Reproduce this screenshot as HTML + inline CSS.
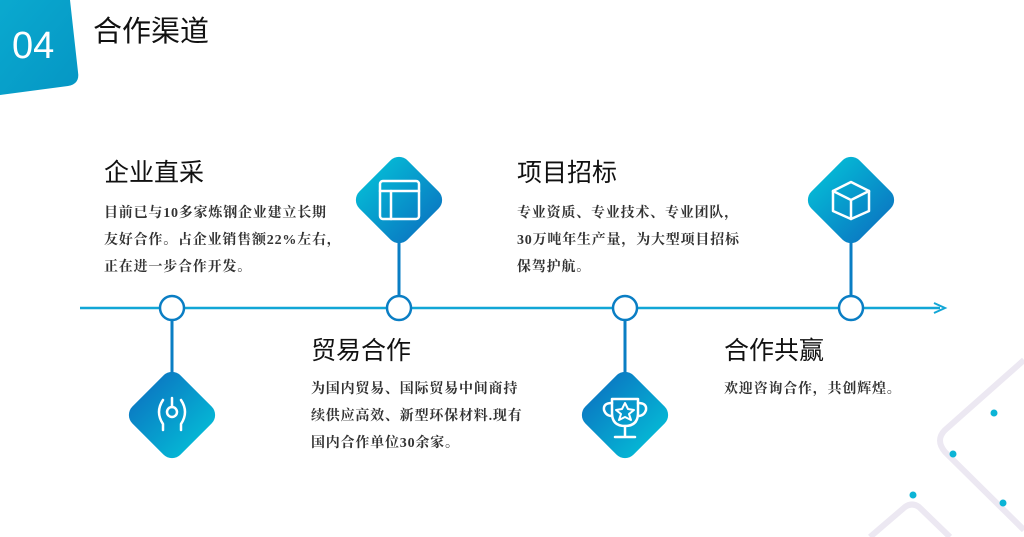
<!DOCTYPE html>
<html><head><meta charset="utf-8"><style>
html,body{margin:0;padding:0;background:#fff;}
body{width:1024px;height:537px;position:relative;overflow:hidden;}
svg{position:absolute;left:0;top:0;}
.t{position:absolute;font-family:"Liberation Sans","Noto Sans CJK SC",sans-serif;font-size:25px;color:#111;line-height:1;white-space:nowrap;}
.b{position:absolute;font-family:"Liberation Serif","Noto Serif CJK SC",serif;font-weight:bold;font-size:14px;letter-spacing:0.8px;color:#333;line-height:27px;white-space:nowrap;}
</style></head><body>
<svg width="1024" height="537" viewBox="0 0 1024 537">
<defs>
<linearGradient id="gt" x1="0" y1="0" x2="1" y2="0"><stop offset="0" stop-color="#05b4d4"/><stop offset="1" stop-color="#0a7ec4"/></linearGradient>
<linearGradient id="gb" x1="0" y1="0" x2="1" y2="0"><stop offset="0" stop-color="#0a7ec4"/><stop offset="1" stop-color="#05b4d4"/></linearGradient>
<linearGradient id="gh" x1="0" y1="0" x2="1" y2="1"><stop offset="0" stop-color="#0aa9cf"/><stop offset="1" stop-color="#0596c4"/></linearGradient>
</defs>
<path d="M0 0 H70 L78 72 Q80 84 68 86 L0 95 Z" fill="url(#gh)"/>
<path d="M1024 360 L945 430 Q935 440 945 452 L1024 530" fill="none" stroke="#ece8f2" stroke-width="6"/>
<path d="M870 537 L905 507 Q912 502 919 507 L950 537" fill="none" stroke="#ece8f2" stroke-width="6"/>
<g fill="#0bb4d6"><circle cx="994" cy="413" r="3.5"/><circle cx="953" cy="454" r="3.5"/><circle cx="1003" cy="503" r="3.5"/><circle cx="913" cy="495" r="3.5"/></g>
<line x1="80" y1="308" x2="940" y2="308" stroke="#12a6d6" stroke-width="2.5"/>
<path d="M934 303 L945 308 L934 313" fill="none" stroke="#12a6d6" stroke-width="2"/>
<g stroke="#0a7ec4" stroke-width="3">
<line x1="172" y1="308" x2="172" y2="375"/>
<line x1="399" y1="240" x2="399" y2="308"/>
<line x1="625" y1="308" x2="625" y2="375"/>
<line x1="851" y1="240" x2="851" y2="308"/>
</g>
<g fill="#fff" stroke="#0a7ec4" stroke-width="2.5">
<circle cx="172" cy="308" r="12"/><circle cx="399" cy="308" r="12"/><circle cx="625" cy="308" r="12"/><circle cx="851" cy="308" r="12"/>
</g>
<rect x="-34" y="-34" width="68" height="68" rx="12" fill="url(#gt)" transform="translate(399 200) rotate(45)"/>
<rect x="-34" y="-34" width="68" height="68" rx="12" fill="url(#gt)" transform="translate(851 200) rotate(45)"/>
<rect x="-34" y="-34" width="68" height="68" rx="12" fill="url(#gb)" transform="translate(172 415) rotate(45)"/>
<rect x="-34" y="-34" width="68" height="68" rx="12" fill="url(#gb)" transform="translate(625 415) rotate(45)"/>
<g fill="none" stroke="#fff" stroke-width="2.5" stroke-linejoin="round" stroke-linecap="round">
<rect x="380" y="181" width="39" height="38" rx="3"/><line x1="380" y1="191" x2="419" y2="191"/><line x1="391" y1="191" x2="391" y2="219"/>
<path d="M851 182 L869 191 L869 211 L851 219 L833 211 L833 191 Z"/><path d="M833 191 L851 200 L869 191 M851 200 L851 219"/>
<circle cx="172" cy="412" r="5"/><line x1="172" y1="398" x2="172" y2="407"/>
<path d="M163 400 Q155 412 163 424 L163 430"/><path d="M181 400 Q189 412 181 424 L181 430"/>
<path d="M612 399 H638 V413 Q638 426 625 426 Q612 426 612 413 Z"/><path d="M612 403 Q603 403 604 410 Q606 416 612 416"/><path d="M638 403 Q647 403 646 410 Q644 416 638 416"/>
<line x1="625" y1="426" x2="625" y2="436"/><line x1="615" y1="437" x2="635" y2="437"/>
<path d="M625 403 L628 409 L634 410 L629 414 L631 420 L625 417 L619 420 L621 414 L616 410 L622 409 Z" stroke-width="2"/>
</g>
</svg>
<div style="position:absolute;left:12px;top:27px;font-family:'Liberation Sans',sans-serif;font-size:38px;color:#fff;line-height:1;">04</div>
<div class="t" style="left:93px;top:18px;font-size:29px;">合作渠道</div>
<div class="t" style="left:104px;top:161px;">企业直采</div>
<div class="b" style="left:104px;top:200px;">目前已与10多家炼钢企业建立长期<br>友好合作。占企业销售额22%左右，<br>正在进一步合作开发。</div>
<div class="t" style="left:517px;top:161px;">项目招标</div>
<div class="b" style="left:517px;top:200px;">专业资质、专业技术、专业团队，<br>30万吨年生产量，为大型项目招标<br>保驾护航。</div>
<div class="t" style="left:311px;top:339px;">贸易合作</div>
<div class="b" style="left:311px;top:376px;">为国内贸易、国际贸易中间商持<br>续供应高效、新型环保材料.现有<br>国内合作单位30余家。</div>
<div class="t" style="left:724px;top:339px;">合作共赢</div>
<div class="b" style="left:724px;top:376px;">欢迎咨询合作，共创辉煌。</div>
</body></html>
